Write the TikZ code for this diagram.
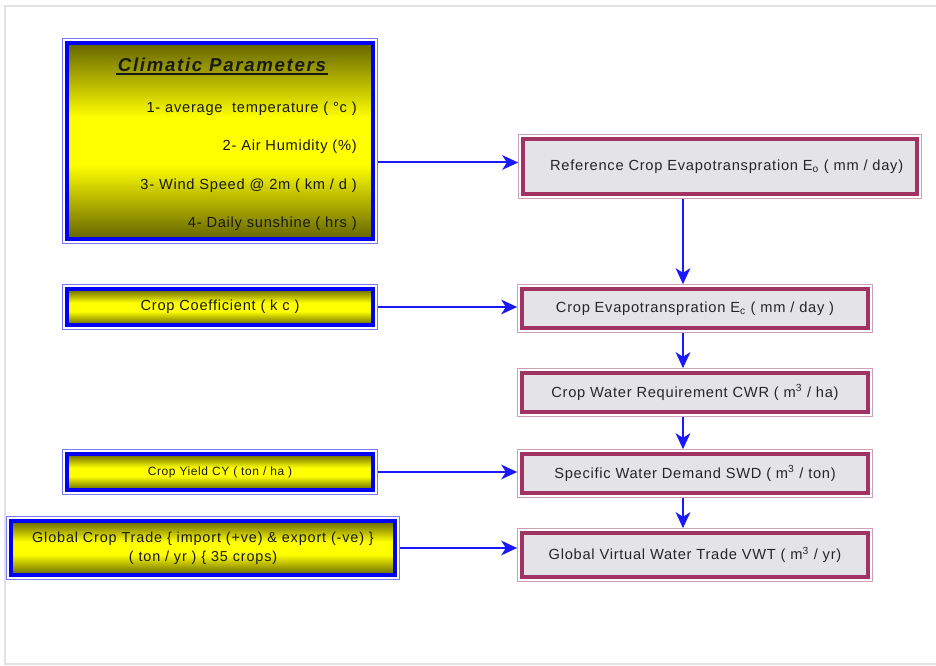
\documentclass[tikz,border=0pt]{standalone}
\usepackage{fontspec}
\setmainfont{Liberation Sans}[LetterSpace=5]
\usetikzlibrary{arrows.meta,positioning,calc}
\definecolor{olivebox}{RGB}{100,100,0}
\definecolor{barblue}{RGB}{0,0,245}
\definecolor{frameblue}{RGB}{120,120,255}
\definecolor{maroonrim}{RGB}{160,50,100}
\definecolor{framepink}{RGB}{205,160,185}
\definecolor{marble}{RGB}{228,228,232}
\definecolor{flowblue}{RGB}{25,25,250}
\definecolor{pagegray}{RGB}{226,226,226}
\pgfdeclareverticalshading{yellowbar}{100bp}{color(0bp)=(olivebox); color(25bp)=(olivebox); color(44bp)=(yellow); color(56bp)=(yellow); color(75bp)=(olivebox); color(100bp)=(olivebox)}

\begin{document}
\begin{tikzpicture}[
  x=0.75pt, y=-0.75pt,
  font=\fontsize{11}{13}\selectfont,
  % input boxes (left column)
  inputbox/.style={draw=barblue, line width=3pt, shading=yellowbar,
                   outer sep=0pt, inner sep=2pt, align=center, text=black!90},
  inframe/.style={draw=frameblue, line width=0.6pt},
  cliptitle/.style={font=\fontsize{14}{16}\selectfont\bfseries\itshape\addfontfeature{LetterSpace=9},
                    inner sep=1.5pt, text=black!90},
  paramtext/.style={inner sep=0pt, text=black!90},
  % result boxes (right column)
  stepbox/.style={draw=maroonrim, line width=3pt, fill=marble,
                  outer sep=0pt, inner sep=2pt, align=center, text=black!85},
  stepframe/.style={draw=framepink, line width=0.6pt},
  flow/.style={-{Stealth[length=12pt, width=11pt, inset=3.5pt]}, draw=flowblue,
               line width=1.5pt, shorten <=3.6pt, shorten >=3.6pt},
  pageframe/.style={draw=pagegray, line width=1.2pt}
]
  \useasboundingbox (0,0) rectangle (936,666);
  \draw[pageframe] (945,664) -- (5,664) -- (5,6) -- (945,6);

  % =============================================================
  % Left column: inputs
  % =============================================================
  \node[inputbox, minimum width=229.5pt, minimum height=147pt] (clim) at (220,141) {};
  \node[cliptitle] (climtitle) at ([xshift=1.5pt, yshift=-16.5pt]clim.north) {Climatic Parameters};
  \draw[line width=1.2pt, black!90] (climtitle.south west) -- (climtitle.south east);
  \foreach \txt [count=\i] in {{1- average\ \ temperature ( °c )}, {2- Air Humidity (\%)},
                               {3- Wind Speed @ 2m ( km / d )}, {4- Daily sunshine ( hrs )}}
    \node[paramtext, anchor=east] (param\i) at ([xshift=-12pt, yshift={-49pt-28.9pt*(\i-1)}]clim.north east) {\txt};

  \node[inputbox, minimum width=229.5pt, minimum height=27pt] (coef) at (220,307) {Crop Coefficient ( k c )};
  \node[inputbox, minimum width=229.5pt, minimum height=27pt, font=\fontsize{9}{11}\selectfont] (yield) at (220,472) {Crop Yield CY ( ton / ha )};
  \node[inputbox, minimum width=288pt, minimum height=40.5pt,
        font=\fontsize{10.8}{14}\selectfont\addfontfeature{LetterSpace=6}] (trade) at (203,548)
       {Global Crop Trade \{ import (+ve) \& export (-ve) \}\\( ton / yr ) \{ 35 crops)};

  \foreach \n in {clim,coef,yield,trade}
    \draw[inframe] ([shift={(-3.6pt,3.6pt)}]\n.north west) rectangle ([shift={(3.6pt,-3.6pt)}]\n.south east);

  % =============================================================
  % Right column: chain of results
  % =============================================================
  \node[stepbox, minimum width=295.5pt, minimum height=41.25pt] (ref) at (720,166.5)
       {\hspace*{10pt}Reference Crop Evapotranspration E\textsubscript{o} ( mm / day)};
  \node[stepbox, minimum width=259.5pt, minimum height=29.25pt] (cet) at (695,308.5)
       {Crop Evapotranspration E\textsubscript{c} ( mm / day )};
  \node[stepbox, minimum width=259.5pt, minimum height=29.25pt] (cwr) at (695,392.5)
       {Crop Water Requirement CWR ( m\textsuperscript{3} / ha)};
  \node[stepbox, minimum width=259.5pt, minimum height=29.25pt] (swd) at (695,473.5)
       {Specific Water Demand SWD ( m\textsuperscript{3} / ton)};
  \node[stepbox, minimum width=259.5pt, minimum height=33pt] (vwt) at (695,555)
       {Global Virtual Water Trade VWT ( m\textsuperscript{3} / yr)};

  \foreach \n in {ref,cet,cwr,swd,vwt}
    \draw[stepframe] ([shift={(-3.6pt,3.6pt)}]\n.north west) rectangle ([shift={(3.6pt,-3.6pt)}]\n.south east);

  % --- connectors ---
  \coordinate (spine) at (683,0);
  \draw[flow] ([yshift=3pt]clim.east |- ref.west) -- ([yshift=3pt]ref.west);
  \draw[flow] (coef.east) -- (coef.east -| cet.west);
  \draw[flow] (yield.east) -- (yield.east -| swd.west);
  \draw[flow] (trade.east) -- (trade.east -| vwt.west);

  \draw[flow] (ref.south -| spine) -- (cet.north -| spine);
  \draw[flow] (cet.south -| spine) -- (cwr.north -| spine);
  \draw[flow] (cwr.south -| spine) -- (swd.north -| spine);
  \draw[flow] (swd.south -| spine) -- (vwt.north -| spine);
\end{tikzpicture}
\end{document}
